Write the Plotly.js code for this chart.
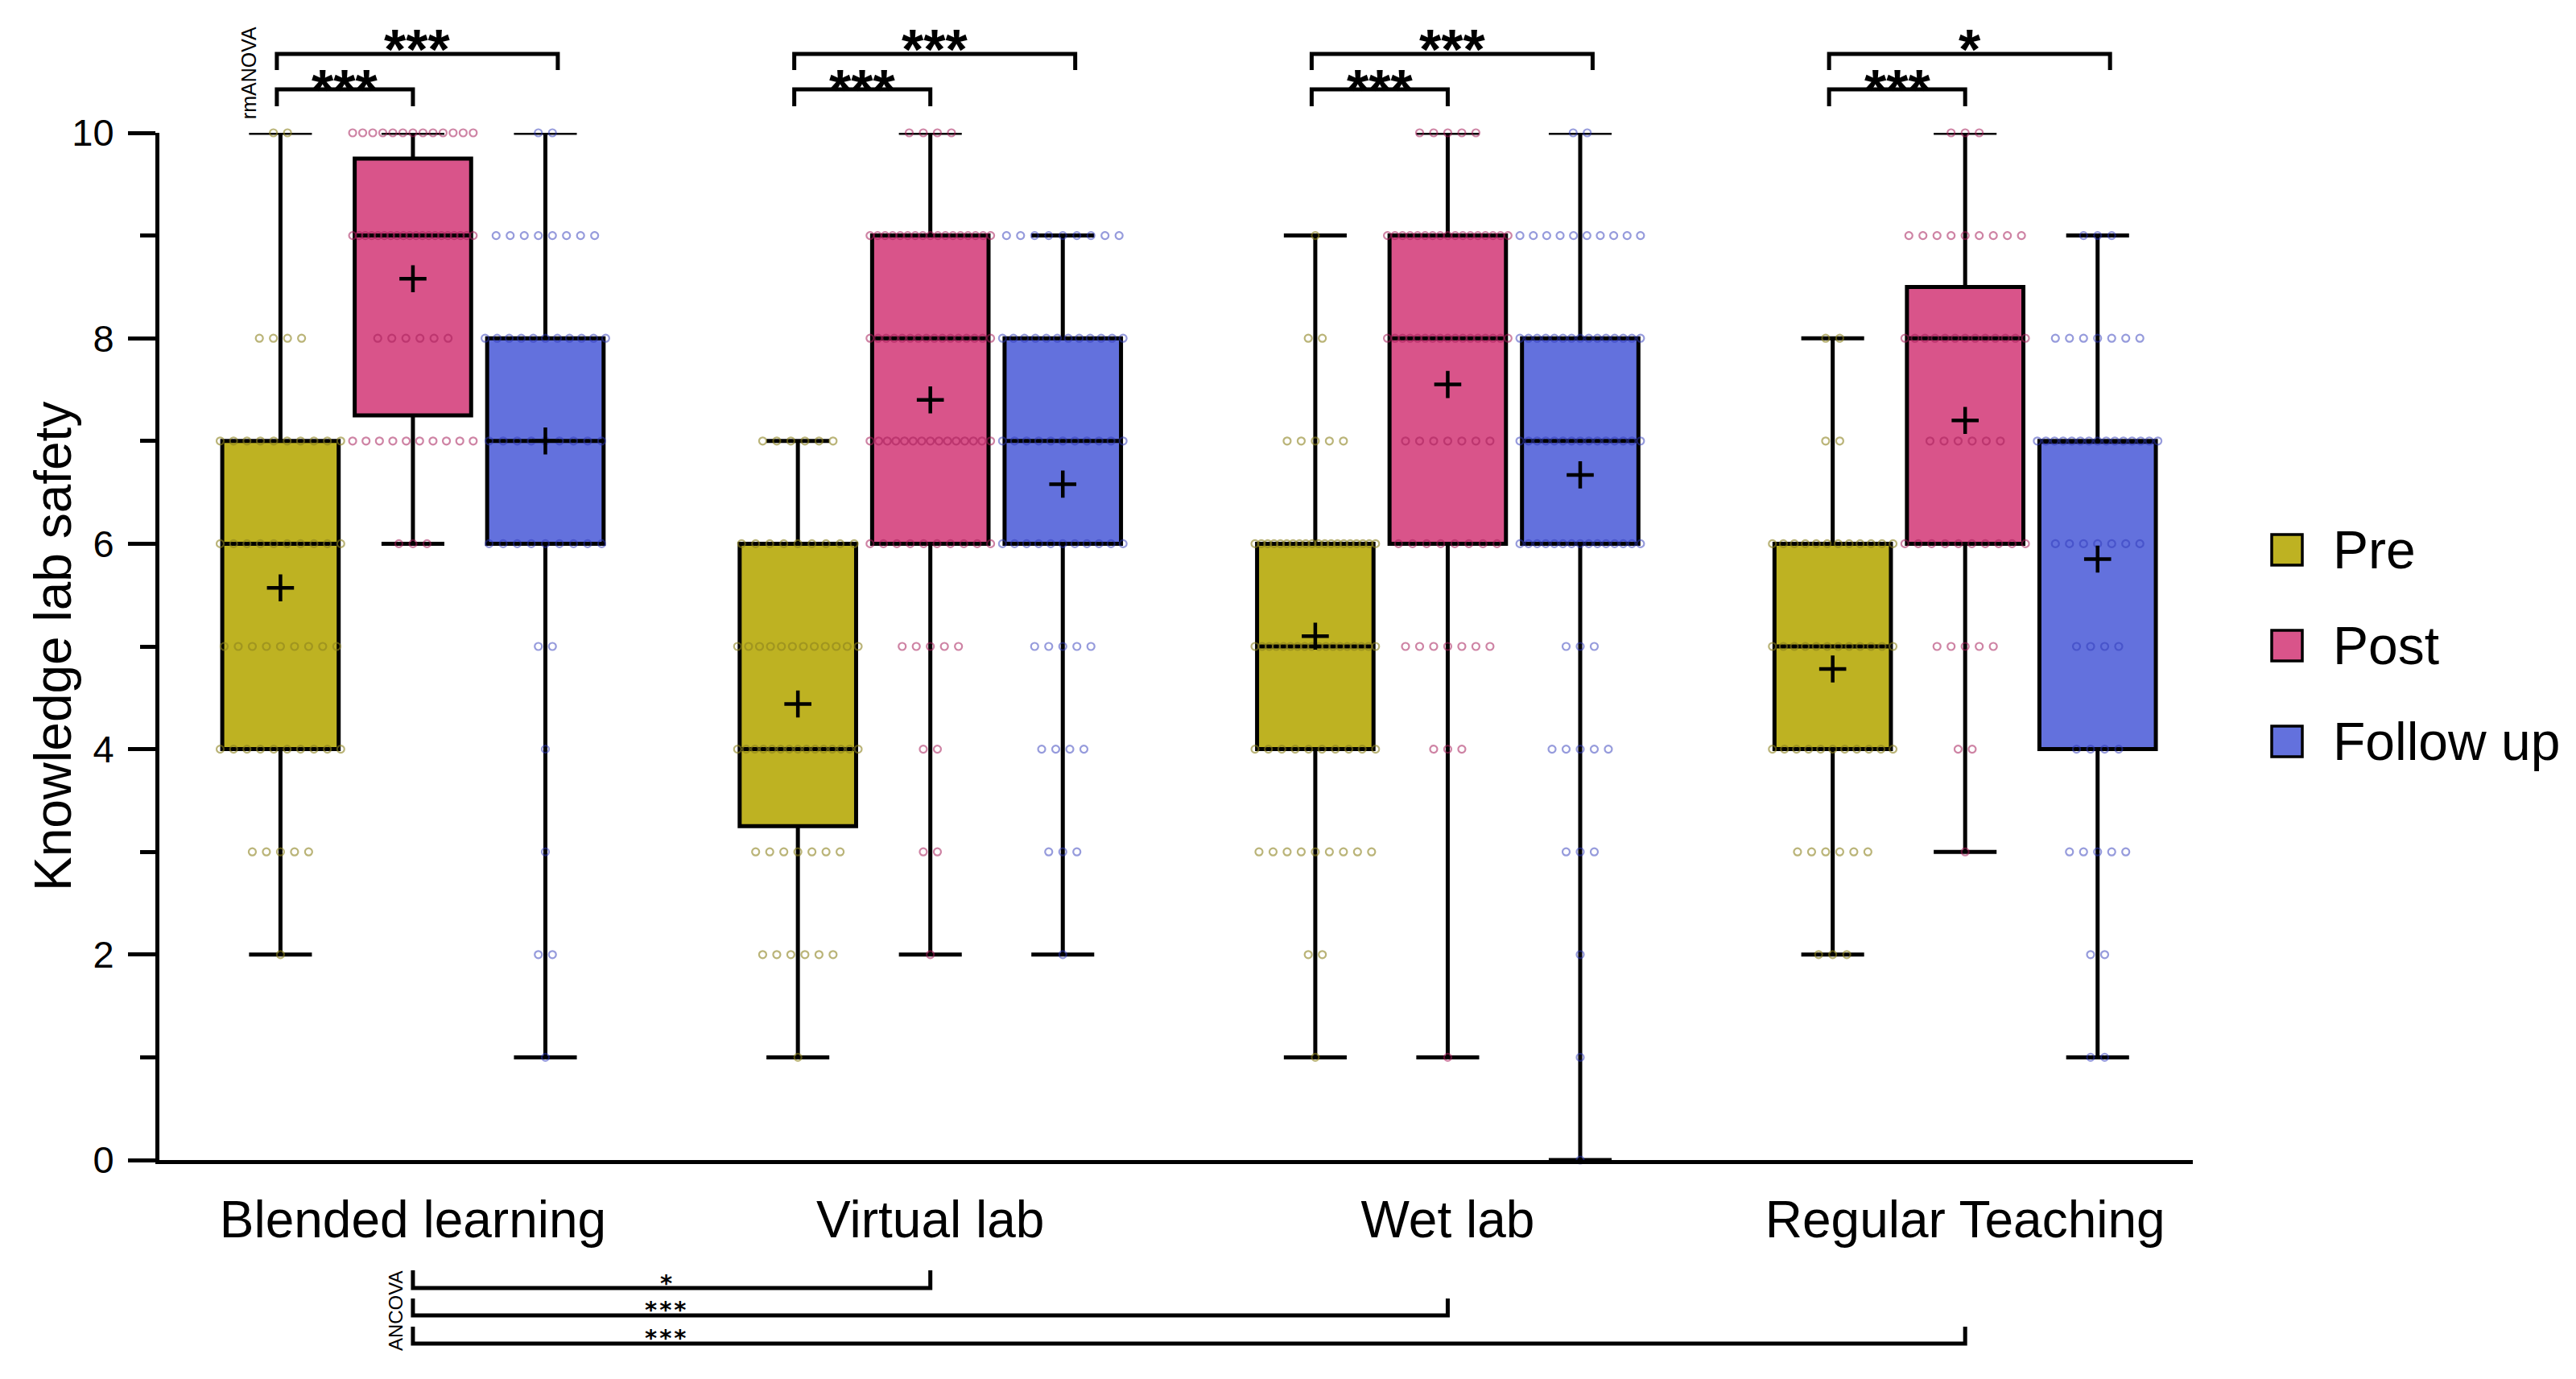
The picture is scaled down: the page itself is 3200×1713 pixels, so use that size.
<!DOCTYPE html>
<html>
<head>
<meta charset="utf-8">
<script src="https://cdn.plot.ly/plotly-3.0.1.min.js"></script>
<style>html,body{margin:0;padding:0;background:#fff}#chart{width:3200px;height:1713px}</style>
</head>
<body>
<div id="chart"></div>
<script>
// ---------------- data ----------------
const categories = ['Blended learning', 'Virtual lab', 'Wet lab', 'Regular Teaching'];
const seriesNames = ['Pre', 'Post', 'Follow up'];
const yTitle = 'Knowledge lab safety';

// box statistics, one value per category
const preMin    = [2, 1, 1, 2];
const preQ1     = [4, 3.25, 4, 4];
const preMedian = [6, 4, 5, 5];
const preQ3     = [7, 6, 6, 6];
const preMax    = [10, 7, 9, 8];
const preMean   = [5.57, 4.44, 5.1, 4.78];

const postMin    = [6, 2, 1, 3];
const postQ1     = [7.25, 6, 6, 6];
const postMedian = [9, 8, 8, 8];
const postQ3     = [9.75, 9, 9, 8.5];
const postMax    = [10, 10, 10, 10];
const postMean   = [8.58, 7.4, 7.55, 7.2];

const followMin    = [1, 2, 0, 1];
const followQ1     = [6, 6, 6, 4];
const followMedian = [7, 7, 7, 7];
const followQ3     = [8, 8, 8, 7];
const followMax    = [10, 9, 10, 9];
const followMean   = [7.0, 6.58, 6.67, 5.85];

// individual scores: number of participants with score 0..10, per category
const scores = [0, 1, 2, 3, 4, 5, 6, 7, 8, 9, 10];
const preCounts = [
  [0, 0, 1, 5, 10, 9, 10, 10, 4, 0, 2],
  [0, 1, 6, 7, 15, 12, 9, 6, 0, 0, 0],
  [0, 1, 2, 9, 10, 18, 20, 5, 2, 1, 0],
  [0, 0, 3, 6, 11, 12, 12, 2, 2, 0, 0]
];
const postCounts = [
  [0, 0, 0, 0, 0, 0, 3, 10, 6, 20, 13],
  [0, 0, 1, 2, 2, 5, 10, 15, 16, 17, 4],
  [0, 1, 0, 0, 3, 7, 8, 7, 17, 17, 5],
  [0, 0, 0, 1, 2, 5, 10, 6, 13, 9, 3]
];
const followCounts = [
  [0, 1, 2, 1, 1, 2, 9, 9, 11, 8, 2],
  [0, 0, 1, 3, 4, 5, 11, 11, 12, 9, 0],
  [1, 1, 1, 3, 5, 3, 15, 15, 15, 10, 2],
  [0, 2, 2, 5, 4, 4, 7, 15, 7, 3, 0]
];

// significance: within category (rmANOVA) [category, from series, to series, label]
const withinTests = [
  [0, 0, 1, '***'], [0, 0, 2, '***'],
  [1, 0, 1, '***'], [1, 0, 2, '***'],
  [2, 0, 1, '***'], [2, 0, 2, '***'],
  [3, 0, 1, '***'], [3, 0, 2, '*']
];
// between categories (ANCOVA) [from category, to category, label]
const betweenTests = [[0, 1, '*'], [0, 2, '***'], [0, 3, '***']];

// ---------------- style / layout ----------------
const seriesColors = ['#BEB222', '#D9548A', '#6371DD'];
const dotColors = ['rgba(140,130,30,0.6)', 'rgba(165,30,90,0.55)', 'rgba(45,55,185,0.5)'];
const FONT = 'Liberation Sans, Arial, Helvetica, sans-serif';

const W = 3200, H = 1713;
const M = {l: 198, r: 476, t: 165, b: 272};
const XR = [-0.49, 3.44];
const BOXGAP = 0.232, BOXGROUPGAP = 0.121;
const OFF = (1 - BOXGAP) / 3;           // offset between grouped boxes (x units)
const pos = (g, s) => g + (s - 1) * OFF;
const plotW = W - M.l - M.r, plotH = H - M.t - M.b;
const xPaper = x => (x - XR[0]) / (XR[1] - XR[0]);
const pxX = X => (X - M.l) / plotW;       // page px -> paper x
const pxY = Y => (H - M.b - Y) / plotH;   // page px -> paper y
const LW = 5;

const stats = [
  {min: preMin, q1: preQ1, med: preMedian, q3: preQ3, max: preMax, mean: preMean, counts: preCounts},
  {min: postMin, q1: postQ1, med: postMedian, q3: postQ3, max: postMax, mean: postMean, counts: postCounts},
  {min: followMin, q1: followQ1, med: followMedian, q3: followQ3, max: followMax, mean: followMean, counts: followCounts}
];

const traces = [];
stats.forEach((st, s) => {
  traces.push({
    type: 'box', name: seriesNames[s],
    x: categories.map((c, g) => g),
    q1: st.q1, median: st.med, q3: st.q3, lowerfence: st.min, upperfence: st.max,
    boxpoints: false, boxmean: false,
    fillcolor: seriesColors[s], line: {color: '#000', width: LW},
    whiskerwidth: 0.54, showlegend: false, hoverinfo: 'skip'
  });
});
stats.forEach((st, s) => {
  const xs = [], ys = [];
  st.counts.forEach((row, g) => {
    row.forEach((n, k) => {
      if (!n) return;
      const step = n > 1 ? Math.min(0.0272, 0.233 / (n - 1)) : 0;
      for (let j = 0; j < n; j++) {
        xs.push(pos(g, s) + (j - (n - 1) / 2) * step);
        ys.push(scores[k]);
      }
    });
  });
  traces.push({
    type: 'scatter', mode: 'markers', x: xs, y: ys, cliponaxis: false,
    marker: {symbol: 'circle-open', size: 9, color: dotColors[s], line: {width: 2.2}},
    showlegend: false, hoverinfo: 'skip'
  });
});
{
  const xs = [], ys = [];
  stats.forEach((st, s) => st.mean.forEach((m, g) => { xs.push(pos(g, s)); ys.push(m); }));
  traces.push({
    type: 'scatter', mode: 'markers', x: xs, y: ys, cliponaxis: false,
    marker: {symbol: 'cross-thin', size: 24, color: '#000', line: {width: 4.5, color: '#000'}},
    showlegend: false, hoverinfo: 'skip'
  });
}

const shapes = [], annotations = [];
const LINE = {color: '#000', width: LW};

// within-category brackets (above plot)
const topLevels = [
  {line: 111, tick: 132, star: 95},
  {line: 67, tick: 87, star: 45}
];
withinTests.forEach(([g, a, b, lab]) => {
  const lv = topLevels[b === 1 ? 0 : 1];
  const x0 = xPaper(pos(g, a) - 0.007);
  const x1 = xPaper(pos(g, b) + (b === 1 ? 0 : 0.024));
  const yl = pxY(lv.line), yt = pxY(lv.tick);
  shapes.push({type: 'path', xref: 'paper', yref: 'paper',
    path: `M${x0},${yt} L${x0},${yl} L${x1},${yl} L${x1},${yt}`, line: LINE});
  annotations.push({xref: 'paper', yref: 'paper', x: (x0 + x1) / 2, y: pxY(lv.star),
    text: lab, showarrow: false, xanchor: 'center', yanchor: 'middle', yshift: -17,
    font: {family: FONT, size: 70, weight: 'bold', color: '#000'}});
});
annotations.push({xref: 'paper', yref: 'paper', x: xPaper(pos(0, 0) - 0.061), y: pxY(91),
  text: 'rmANOVA', textangle: -90, showarrow: false, xanchor: 'center', yanchor: 'middle',
  font: {family: FONT, size: 25, color: '#000'}});

// between-category brackets (below axis)
const botLevels = [
  {line: 1600, tick: 1578, star: 1587},
  {line: 1634, tick: 1613, star: 1620},
  {line: 1669, tick: 1648, star: 1655}
];
betweenTests.forEach(([ga, gb, lab], i) => {
  const lv = botLevels[i];
  const x0 = xPaper(pos(ga, 1)), x1 = xPaper(pos(gb, 1));
  const yl = pxY(lv.line), yt = pxY(lv.tick);
  shapes.push({type: 'path', xref: 'paper', yref: 'paper',
    path: `M${x0},${yt} L${x0},${yl} L${x1},${yl} L${x1},${yt}`, line: LINE});
  annotations.push({xref: 'paper', yref: 'paper', x: xPaper(pos(ga, 1) + 0.49), y: pxY(lv.star),
    text: `<span style="letter-spacing:3px">${lab}</span>`, showarrow: false,
    xanchor: 'center', yanchor: 'middle', yshift: -7, xshift: 1, borderpad: 0,
    font: {family: 'DejaVu Sans, sans-serif', size: 29, weight: 'bold', color: '#000'}});
});
annotations.push({xref: 'paper', yref: 'paper', x: xPaper(pos(0, 1) - 0.034), y: pxY(1628),
  text: 'ANCOVA', textangle: -90, showarrow: false, xanchor: 'center', yanchor: 'middle',
  font: {family: FONT, size: 24, color: '#000'}});

// y-axis title
annotations.push({xref: 'paper', yref: 'paper', x: pxX(66), y: 0.5,
  text: yTitle, textangle: -90, showarrow: false, xanchor: 'center', yanchor: 'middle',
  font: {family: FONT, size: 64, color: '#000'}});

// legend
seriesNames.forEach((name, s) => {
  const yc = 683 + s * 119;
  shapes.push({type: 'rect', xref: 'paper', yref: 'paper',
    x0: pxX(2822), x1: pxX(2860), y0: pxY(yc + 19), y1: pxY(yc - 19),
    fillcolor: seriesColors[s], line: {color: '#000', width: 3.5}});
  annotations.push({xref: 'paper', yref: 'paper', x: pxX(2896), y: pxY(yc),
    text: name, showarrow: false, xanchor: 'left', yanchor: 'middle',
    font: {family: FONT, size: 66, color: '#000'}});
});

const layout = {
  width: W, height: H, margin: M,
  paper_bgcolor: '#fff', plot_bgcolor: '#fff',
  font: {family: FONT, color: '#000'},
  showlegend: false,
  boxmode: 'group', boxgap: BOXGAP, boxgroupgap: BOXGROUPGAP,
  xaxis: {
    range: XR, tickmode: 'array', tickvals: categories.map((c, g) => g), ticktext: categories,
    ticks: '', showline: true, linewidth: LW, linecolor: '#000',
    tickfont: {family: FONT, size: 64, color: '#000'}, ticklabelstandoff: 14,
    showgrid: false, zeroline: false
  },
  yaxis: {
    range: [0, 10], tick0: 0, dtick: 2, ticks: 'outside', ticklen: 34, tickwidth: LW, tickcolor: '#000',
    minor: {dtick: 1, ticks: 'outside', ticklen: 19, tickwidth: LW, tickcolor: '#000', showgrid: false},
    showline: true, linewidth: LW, linecolor: '#000',
    tickfont: {family: FONT, size: 47, color: '#000'}, ticklabelstandoff: 8,
    showgrid: false, zeroline: false
  },
  shapes: shapes,
  annotations: annotations
};

Plotly.newPlot('chart', traces, layout, {staticPlot: true, displayModeBar: false});
</script>
</body>
</html>
